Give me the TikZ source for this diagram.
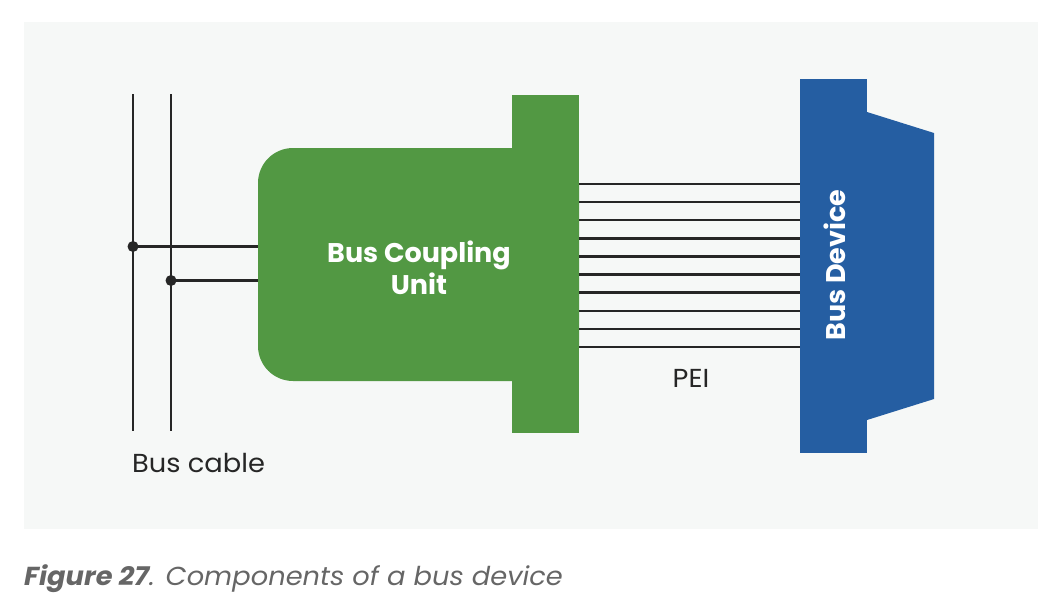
\documentclass[tikz,border=0pt]{standalone}
\usepackage{fontspec}
\setmainfont{Poppins}
\newfontfamily\widefont{Poppins}[FakeStretch=1.05]
\usetikzlibrary{positioning}
\definecolor{panelgray}{HTML}{F6F8F7}
\definecolor{cplgreen}{HTML}{529843}
\definecolor{devblue}{HTML}{255EA2}
\definecolor{wirecol}{HTML}{262626}
\definecolor{capgray}{HTML}{666666}

\begin{document}
\begin{tikzpicture}[%
    x=1pt,
    y=-1pt,
    wire/.style={%
      draw=wirecol,
      line width=2.4pt},
    junction/.style={%
      circle,
      fill=wirecol,
      inner sep=0pt,
      minimum size=11pt},
    block/.style={%
      inner sep=0pt,
      text=white,
      font=\bfseries\fontsize{27}{31.5}\selectfont,
      align=center},
    tag/.style={%
      inner sep=0pt,
      text=wirecol,
      font=\widefont\fontsize{26}{30}\selectfont}
    ]
    \useasboundingbox (0,0) rectangle (1044,606);
    \fill[panelgray] (24,22) rectangle (1038,529);
    % coupling unit
    \node[block, fill=cplgreen, rounded corners=35pt,
      minimum width=321pt, minimum height=233pt] (bcu) at (418.5,264.5) {};
    \node[block, fill=cplgreen, minimum width=67pt, minimum height=338pt] (plug) at (545.5,264) {};
    \node[block] (bcutext) at (419,268) {Bus Coupling\\Unit};
    % bus device
    \fill[devblue] (867,112) -- (934,133) -- (934,399) -- (867,420) -- cycle;
    \node[block, fill=devblue, minimum width=67pt, minimum height=374pt] (dev) at (833.5,266) {};
    \node[block, rotate=90] (devtext) at (835,265) {Bus Device};
    % bus cable
    \coordinate (c1top) at (133,94);
    \coordinate (c1bot) at (133,431);
    \coordinate (c2top) at (171,94);
    \coordinate (c2bot) at (171,431);
    \draw[wire] (c1top) -- (c1bot);
    \draw[wire] (c2top) -- (c2bot);
    \node[junction] (j1) at (133,246.5) {};
    \node[junction] (j2) at (171,280.5) {};
    \draw[wire] (j1.center) -- (bcu.west |- j1);
    \draw[wire] (j2.center) -- (bcu.west |- j2);
    % PEI
    \foreach \i in {0,...,9} {
      \coordinate (p\i) at (0,184+18.1*\i);
      \draw[wire] (plug.east |- p\i) -- (dev.west |- p\i);
    }
    \node[tag, anchor=base west] (cable) at (132,472.5) {Bus cable};
    \node[tag, anchor=base] (pei) at (691,387.5) {PEI};
    \node[anchor=base west, inner sep=0pt, text=capgray,
      font=\widefont\itshape\fontsize{26}{30}\selectfont] (caption) at (24,585.5)
      {\textbf{Figure 27}. Components of a bus device};
\end{tikzpicture}
\end{document}
